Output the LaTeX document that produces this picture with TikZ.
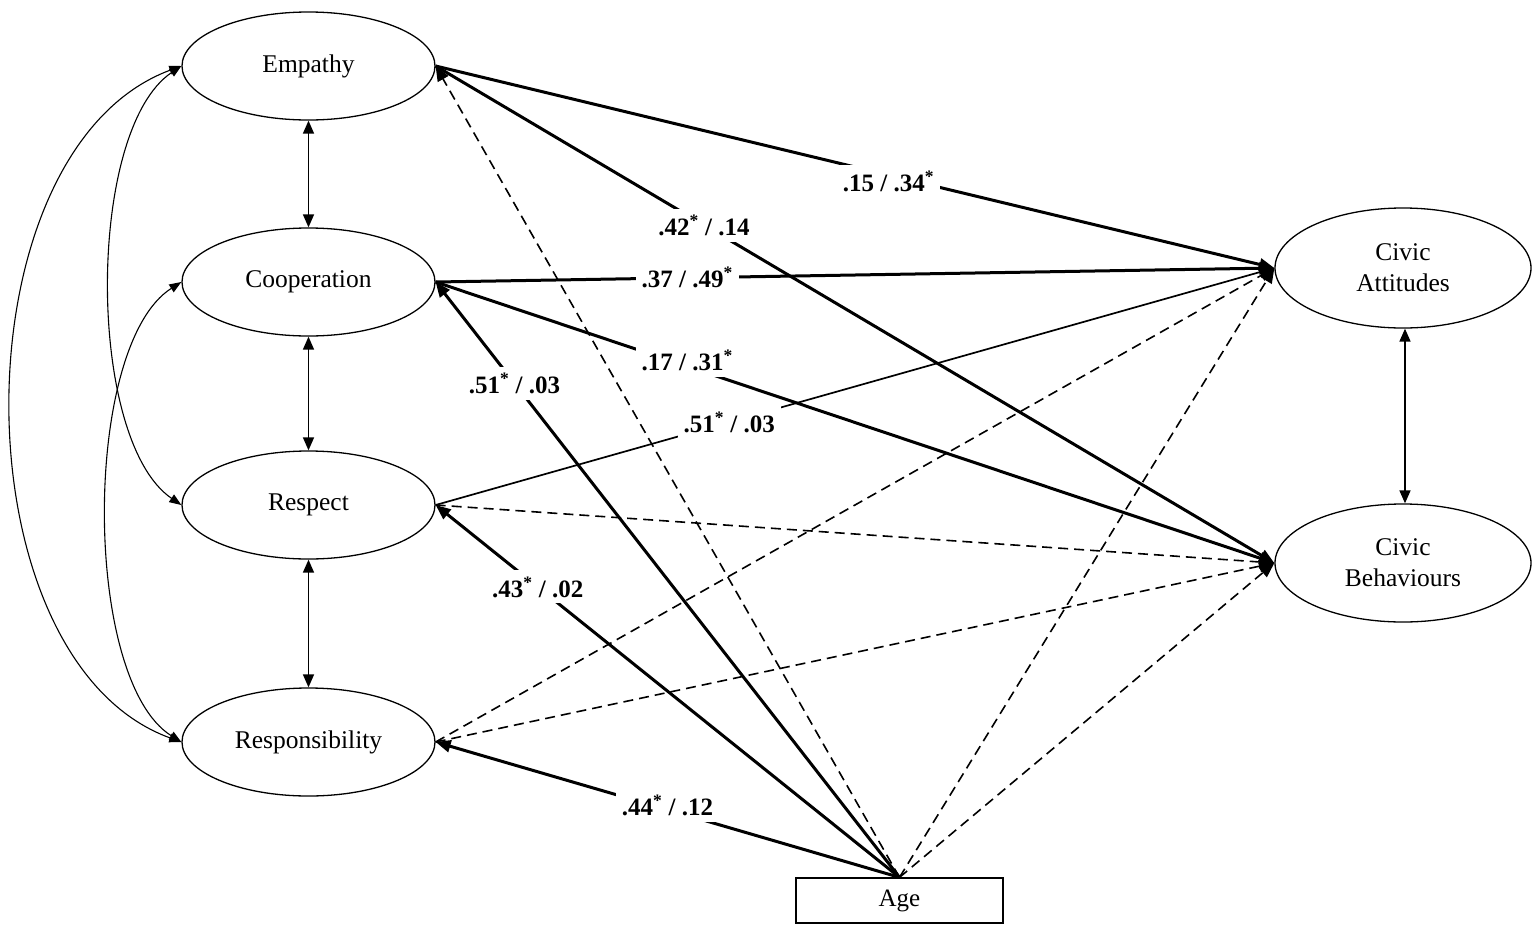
\documentclass[tikz,border=0pt]{standalone}
\usepackage{fontspec}
\setmainfont{Liberation Serif}
\usetikzlibrary{shapes.geometric,arrows.meta}
\begin{document}
\begin{tikzpicture}[x=1pt,y=-1pt,
  var/.style={draw,ellipse,line width=1.3pt,minimum width=253pt,minimum height=108pt,inner sep=0pt,align=center,font=\fontsize{25.5}{31}\selectfont},
  boxv/.style={draw,rectangle,line width=1.3pt,minimum width=207pt,minimum height=45pt,inner sep=0pt,font=\fontsize{25}{28}\selectfont},
  thickp/.style={line width=3pt,-{Triangle[length=15pt,width=12pt]}},
  thinp/.style={line width=1.7pt,-{Triangle[length=15pt,width=12pt]}},
  dashp/.style={line width=1.6pt,dash pattern=on 10pt off 6pt,-{Triangle[length=15pt,width=12pt]}},
  dbl/.style={line width=1.6pt,{Triangle[length=13pt,width=11pt]}-{Triangle[length=13pt,width=11pt]}},
  curv/.style={line width=1.1pt,{Triangle[length=12pt,width=9pt]}-{Triangle[length=12pt,width=9pt]}},
  lab/.style={fill=white,inner sep=6pt,font=\fontsize{25}{28}\selectfont\bfseries}
]
\useasboundingbox (0,0) rectangle (1535,935);
\fill[white] (0,0) rectangle (1535,935);

% nodes
\node[var] (emp) at (308.5,66) {Empathy};
\node[var] (coop) at (308.5,282) {Cooperation};
\node[var] (rsp) at (308.5,505) {Respect};
\node[var] (rsb) at (308.5,742) {Responsibility};
\node[var,minimum width=256pt,minimum height=120pt] (ca) at (1403,268) {Civic\\Attitudes};
\node[var,minimum width=256pt,minimum height=118pt] (cb) at (1403,563) {Civic\\Behaviours};
\node[boxv] (age) at (899.5,900.5) {Age};

% correlations among skills
\draw[dbl] (emp.south) -- (coop.north);
\draw[dbl] (coop.south) -- (rsp.north);
\draw[dbl] (rsp.south) -- (rsb.north);
\draw[dbl] ([xshift=2pt]ca.south) -- ([xshift=2pt]cb.north);
\draw[curv] (emp.west) .. controls (-45,150) and (-45,660) .. (rsb.west);
\draw[curv] (emp.west) .. controls (86,130) and (86,440) .. (rsp.west);
\draw[curv] (coop.west) .. controls (82,345) and (82,680) .. (rsb.west);

% dashed paths
\draw[dashp] (age.north) -- (emp.east);
\draw[dashp] (age.north) -- (ca.west);
\draw[dashp] (age.north) -- (cb.west);
\draw[dashp] (rsp.east) -- (cb.west);
\draw[dashp] (rsb.east) -- (ca.west);
\draw[dashp] (rsb.east) -- (cb.west);

% solid paths
\draw[thickp] (emp.east) -- node[lab,pos=0.54,yshift=-6pt] {.15 / .34\textsuperscript{*}} (ca.west);
\draw[thickp] (emp.east) -- node[lab,pos=0.32] {.42\textsuperscript{*} / .14} (cb.west);
\draw[thickp] (coop.east) -- node[lab,pos=0.30] {.37 / .49\textsuperscript{*}} (ca.west);
\draw[thickp] (coop.east) -- node[lab,pos=0.30,yshift=6pt] {.17 / .31\textsuperscript{*}} (cb.west);
\draw[thinp] (rsp.east) -- node[lab,pos=0.35] {.51\textsuperscript{*} / .03} (ca.west);
\draw[thickp] (age.north) -- node[lab,pos=0.83] {.51\textsuperscript{*} / .03} (coop.east);
\draw[thickp] (age.north) -- node[lab,pos=0.78] {.43\textsuperscript{*} / .02} (rsp.east);
\draw[thickp] (age.north) -- node[lab,pos=0.50,yshift=4pt] {.44\textsuperscript{*} / .12} (rsb.east);
\end{tikzpicture}
\end{document}
